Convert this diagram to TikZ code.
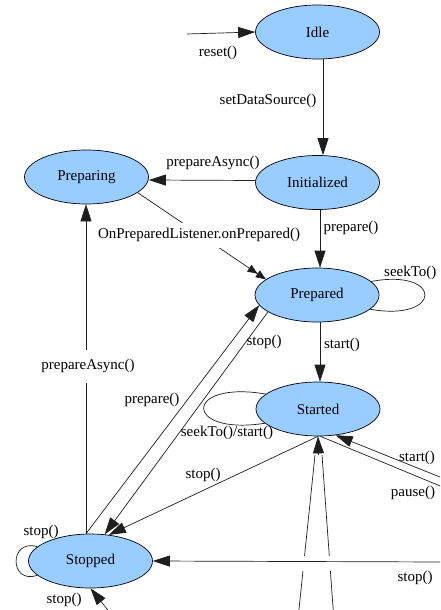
\documentclass[tikz,border=0pt]{standalone}
\usepackage{fontspec}
\setmainfont{Liberation Serif}
\newfontfamily\lblfont{Liberation Serif}
\usetikzlibrary{arrows.meta,shapes.geometric}
\definecolor{stfill}{RGB}{153,204,255}
\definecolor{edgecol}{RGB}{30,30,30}
\begin{document}
\begin{tikzpicture}[x=1pt,y=-1pt,
  state/.style={ellipse,draw=black,line width=0.7pt,fill=stfill,minimum width=124pt,minimum height=54pt,inner sep=0pt,font=\lblfont\fontsize{15}{17}\selectfont},
  edge/.style={draw=edgecol,line width=0.7pt},
  arr/.style={edge,-{Triangle[length=17pt,width=11pt]}},
  darr/.style={edge,-{Triangle[length=10pt,width=8pt]Triangle[length=10pt,width=8pt]}},
  lbl/.style={font=\lblfont\fontsize{15}{17}\selectfont,inner sep=1pt,text height=10pt,text depth=3pt},
  gaplbl/.style={lbl,fill=white}
]
\useasboundingbox (0,0) rectangle (440,610);
\clip (0,0) rectangle (440,610);
\fill[white] (0,0) rectangle (440,610);

% states
\node[state] (idle) at (317.5,32) {Idle};
\node[state] (init) at (317.5,182.5) {Initialized};
\node[state] (preparing) at (86.5,177) {Preparing};
\node[state] (prepared) at (317,295) {Prepared};
\node[state] (started) at (318,409) {Started};
\node[state] (stopped) at (90.5,561) {Stopped};

% free ends
\coordinate (rst) at (187,34);
\coordinate (pst) at (445,479);
\coordinate (ppa) at (445,488);
\coordinate (pstop) at (445,562);
\coordinate (bl) at (298.5,614);
\coordinate (br) at (333.5,614);
\coordinate (bj) at (318.5,455);
\coordinate (bst) at (111,614);

% edges
\draw[arr] (rst) -- (idle.west);
\node[lbl] at (218,53) {reset()};

\draw[arr] ([xshift=5.5]idle.south) -- ([xshift=5.5]init.north);
\node[lbl] at (268,101) {setDataSource()};

\draw[arr] ([yshift=2]init.west) -- ([yshift=-3]preparing.east);
\node[lbl] at (213,163) {prepareAsync()};

\draw[arr] ([xshift=2.5]init.south) -- ([xshift=3]prepared.north);
\node[lbl] at (351,228) {prepare()};

\draw[darr] (preparing.-17) -- (prepared.163);
\node[gaplbl,inner ysep=6pt] at (199,235) {OnPreparedListener.onPrepared()};

\draw[edge] (prepared.14) .. controls (443,268) and (443,322) .. (prepared.-15);
\node[lbl,anchor=west] at (383,273) {seekTo()};

\draw[arr] ([xshift=3]prepared.south) -- ([xshift=2]started.north);
\node[lbl] at (342,345) {start()};

\draw[arr] ([xshift=-4.5]stopped.north) -- (prepared.190);
\node[lbl] at (152,400) {prepare()};

\draw[arr] (prepared.199) -- (stopped.62);
\node[lbl] at (264,342) {stop()};

\draw[edge] (started.164) .. controls (183,380) and (183,436) .. (started.195);
\node[lbl] at (227,433) {seekTo()/start()};

\draw[arr] (started.south) -- (stopped.55);
\node[lbl] at (203,475) {stop()};

\draw[arr] (pst) -- (started.-56);
\node[lbl] at (417,458) {start()};
\draw[edge] (started.-85) -- (ppa);
\node[lbl] at (413,493) {pause()};

\draw[edge] (bl) -- ([xshift=-3.5]bj);
\draw[edge] (br) -- ([xshift=3.5]bj);
\draw[arr] (bj) -- (started.south);
\fill[white] (294,556) rectangle (340,571);

\draw[arr] (pstop) -- (stopped.east);
\node[lbl] at (415,578) {stop()};

\draw[arr] ([xshift=-4.5]stopped.north) -- ([xshift=-0.5]preparing.south);
\node[gaplbl,inner ysep=10pt] at (88,366) {prepareAsync()};

\draw[edge] (stopped.165) .. controls (9,538) and (9,585) .. (stopped.195);
\node[lbl] at (41,532) {stop()};

\draw[arr] (bst) -- (stopped.south);
\node[lbl] at (64,600) {stop()};
\end{tikzpicture}
\end{document}
